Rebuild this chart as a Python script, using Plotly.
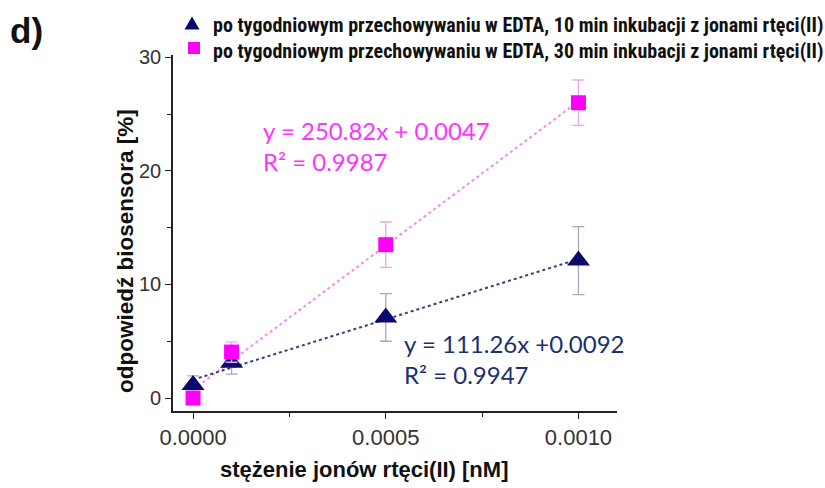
import numpy as np
import plotly.graph_objects as go

# ---- data ----
conc = [0.0, 0.0001, 0.0005, 0.001]
resp_10min = [1.15, 3.1, 7.1, 12.1]
err_10min = [0.8, 1.0, 2.1, 3.0]
resp_30min = [0.0, 4.05, 13.5, 26.0]
err_30min = [0.0, 0.9, 2.0, 2.0]

label_10 = "po tygodniowym przechowywaniu w EDTA, 10 min inkubacji z jonami rtęci(II)"
label_30 = "po tygodniowym przechowywaniu w EDTA, 30 min inkubacji z jonami rtęci(II)"
eq_30 = ["y = 250.82x + 0.0047", "R² = 0.9987"]
eq_10 = ["y = 111.26x +0.0092", "R² = 0.9947"]
x_ticks = [0.0, 0.0005, 0.001]
x_ticklabels = ["0.0000", "0.0005", "0.0010"]
y_ticks = [0, 10, 20, 30]

NAVY = "#0a0a6e"
MAGENTA = "#ff00ff"

W, H = 825, 488
L, R, T, B = 173, 617, 55, 411


def px(xp):
    return (xp - L) / (R - L)


def py(yp):
    return (B - yp) / (B - T)


fig = go.Figure()

# trend lines (least squares fits of the data)
xs = np.array([0.0, 0.001])
for ys, col in [(resp_30min, "#f08cf0"), (resp_10min, "#3a3a80")]:
    k, b = np.polyfit(conc, ys, 1)
    fig.add_trace(go.Scatter(x=xs, y=k * xs + b, mode="lines",
                             line=dict(color=col, width=2, dash="dot"),
                             showlegend=False, hoverinfo="skip"))

fig.add_trace(go.Scatter(
    x=conc, y=resp_10min, mode="markers", name=label_10,
    marker=dict(symbol="triangle-up", size=20, color=NAVY),
    error_y=dict(type="data", array=err_10min, color="#a8a8c0", thickness=1.3, width=6),
    showlegend=False))
fig.add_trace(go.Scatter(
    x=conc, y=resp_30min, mode="markers", name=label_30,
    marker=dict(symbol="square", size=15, color=MAGENTA),
    error_y=dict(type="data", array=err_30min, color="#eaa8ea", thickness=1.3, width=6),
    showlegend=False))

shapes = []
# legend markers
tx, ty = 192, 23
shapes.append(dict(type="path", xref="paper", yref="paper",
                   path=f"M {px(tx-7.5)} {py(ty+6.5)} L {px(tx+7.5)} {py(ty+6.5)} L {px(tx)} {py(ty-6.5)} Z",
                   fillcolor=NAVY, line=dict(width=0)))
sx, sy = 194, 48
shapes.append(dict(type="rect", xref="paper", yref="paper",
                   x0=px(sx-6), x1=px(sx+6), y0=py(sy+6), y1=py(sy-6),
                   fillcolor=MAGENTA, line=dict(width=0)))

LEG_FONT = dict(family="Liberation Sans Narrow, Roboto Condensed, Arial", size=20, color="#111")
annotations = [
    dict(text="<b>" + label_10 + "</b>", x=px(211), y=py(25), xref="paper", yref="paper",
         xanchor="left", yanchor="middle", showarrow=False, font=LEG_FONT),
    dict(text="<b>" + label_30 + "</b>", x=px(211), y=py(51), xref="paper", yref="paper",
         xanchor="left", yanchor="middle", showarrow=False, font=LEG_FONT),
    dict(text="<b>d)</b>", x=px(8), y=py(30), xref="paper", yref="paper",
         xanchor="left", yanchor="middle", showarrow=False,
         font=dict(family="Arial", size=35, color="#111")),
    dict(text=eq_30[0] + "<br>" + eq_30[1], x=px(261), y=py(114), xref="paper", yref="paper",
         xanchor="left", yanchor="top", align="left", showarrow=False,
         font=dict(family="Lato, Open Sans", size=24, color="#ff33ff")),
    dict(text=eq_10[0] + "<br>" + eq_10[1], x=px(402), y=py(327), xref="paper", yref="paper",
         xanchor="left", yanchor="top", align="left", showarrow=False,
         font=dict(family="Lato, Open Sans", size=24, color="#1c2f6e")),
    dict(text="<b>stężenie jonów rtęci(II) [nM]</b>", x=px(364), y=py(470), xref="paper", yref="paper",
         xanchor="center", yanchor="middle", showarrow=False,
         font=dict(family="Arial", size=22, color="#111")),
    dict(text="<b>odpowiedź biosensora [%]</b>", x=px(125), y=py(251), xref="paper", yref="paper",
         xanchor="center", yanchor="middle", showarrow=False, textangle=-90,
         font=dict(family="Arial", size=22.5, color="#111")),
]

fig.update_layout(
    width=W, height=H,
    margin=dict(l=L, r=W - R, t=T, b=H - B, pad=0),
    paper_bgcolor="white", plot_bgcolor="white",
    shapes=shapes, annotations=annotations,
    xaxis=dict(range=[-0.000052, 0.0011], tickvals=x_ticks, ticktext=x_ticklabels,
               showgrid=False, zeroline=False, showline=True, linecolor="#222", linewidth=1.6,
               ticks="outside", ticklen=6, tickwidth=1.3, tickcolor="#222",
               tickfont=dict(family="Arial", size=22, color="#333"),
               minor=dict(tickvals=[0.00025, 0.00075], ticks="outside", ticklen=4, tickcolor="#222")),
    yaxis=dict(range=[-1.14, 30.2], tickvals=y_ticks,
               showgrid=False, zeroline=False, showline=True, linecolor="#222", linewidth=1.6,
               ticks="outside", ticklen=6, tickwidth=1.3, tickcolor="#222",
               tickfont=dict(family="Arial", size=20, color="#333"),
               minor=dict(tickvals=[5, 15, 25], ticks="outside", ticklen=4, tickcolor="#222")),
)

fig.write_html("out.html")
